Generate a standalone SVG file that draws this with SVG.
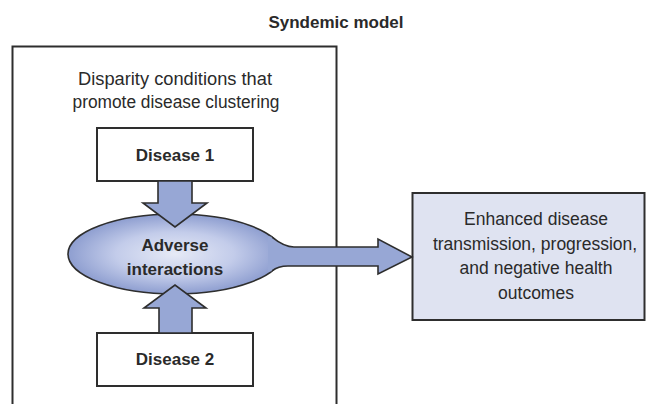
<svg xmlns="http://www.w3.org/2000/svg" width="647" height="404" viewBox="0 0 647 404">
<style>
text{font-family:"Liberation Sans",Arial,sans-serif;fill:#2a2a2a;text-anchor:middle}
.b{font-weight:bold;font-size:17px}
.r{font-size:17.5px}
.box{fill:#fff;stroke:#2e2e2e;stroke-width:2}
.arw{fill:#97a7d5;stroke:#2e2e2e;stroke-width:1.6;stroke-linejoin:miter}
</style>
<defs>
<radialGradient id="eg" cx="0.5" cy="0.5" r="0.5">
<stop offset="0" stop-color="#e6eaf6"/>
<stop offset="0.55" stop-color="#c3ccea"/>
<stop offset="1" stop-color="#8e9ed0"/>
</radialGradient>
</defs>
<rect width="647" height="404" fill="#fff"/>
<text class="b" x="336" y="27.5">Syndemic model</text>
<g id="disparity">
<rect x="12.5" y="46.5" width="324" height="370" fill="none" stroke="#2e2e2e" stroke-width="2"/>
<text class="r" x="175" y="85" textLength="194" lengthAdjust="spacingAndGlyphs">Disparity conditions that</text>
<text class="r" x="176" y="108" textLength="207" lengthAdjust="spacingAndGlyphs">promote disease clustering</text>
</g>
<g id="disease1">
<rect class="box" x="97" y="128" width="156" height="53"/>
<text class="b" x="175" y="161">Disease 1</text>
</g>
<g id="disease2">
<rect class="box" x="97" y="333" width="156" height="53"/>
<text class="b" x="175" y="365">Disease 2</text>
</g>
<g id="adverse">
<ellipse cx="175" cy="254" rx="107" ry="40" fill="url(#eg)" stroke="#2e2e2e" stroke-width="1.6"/>
</g>
<g id="outcomes">
<rect x="412.5" y="193" width="232" height="127" fill="#dfe3f1" stroke="#2e2e2e" stroke-width="2"/>
<text class="r" x="536" y="225">Enhanced disease</text>
<text class="r" x="535" y="249.5">transmission, progression,</text>
<text class="r" x="536" y="274">and negative health</text>
<text class="r" x="536" y="298.5">outcomes</text>
</g>
<g id="connectors">
<path d="M268,236 L272,237.1 Q284.3,247 294,247 L378,247 L378,239 L412,257 L378,274 L378,266 L288,266 Q278.1,266 272,270.9 L268,272 Z" fill="#97a7d5"/>
<path d="M272,237.1 Q284.3,247 294,247 L378,247 L378,239 L412,257 L378,274 L378,266 L288,266 Q278.1,266 272,270.9" fill="none" stroke="#2e2e2e" stroke-width="1.6"/>
<path class="arw" d="M158,181 L192,181 L192,203 L207,203 L175,227 L143,203 L158,203 Z"/>
<path class="arw" d="M159,333 L192,333 L192,308 L206,308 L175,285 L144,308 L159,308 Z"/>
</g>
<g id="adverse-label">
<text class="b" x="175" y="251">Adverse</text>
<text class="b" x="175" y="275">interactions</text>
</g>
</svg>
